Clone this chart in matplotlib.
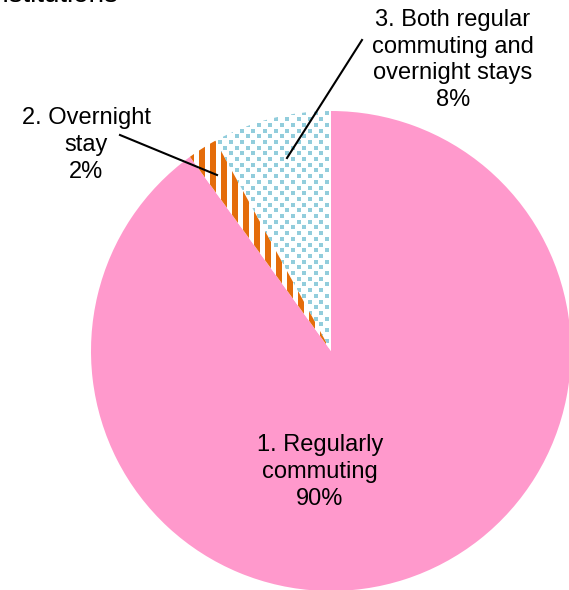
import numpy as np
import matplotlib
matplotlib.use('Agg')
import matplotlib.pyplot as plt
from matplotlib.patches import Rectangle
from matplotlib.collections import PatchCollection

plt.rcParams['font.family'] = ['Liberation Sans', 'DejaVu Sans']

labels = ['1. Regularly\ncommuting', '2. Overnight\nstay', '3. Both regular\ncommuting and\novernight stays']
shares = [90, 2, 8]
pink = '#FF99CC'
orange = '#E46C0A'
dot_blue = '#92CDDC'

W, H = 569, 590
R = 240.0          # pie radius in px
cx, cy = 331, 351  # pie centre in px (from top-left)

fig = plt.figure(figsize=(W / 100, H / 100), dpi=100)
ax = fig.add_axes([0, 0, 1, 1])

wedges, _ = ax.pie(shares, colors=[pink, 'white', 'white'], startangle=90,
                   counterclock=False, radius=1, center=(0, 0),
                   wedgeprops=dict(linewidth=0))

# vertical orange stripes in the 2% slice
period = 11 / R
stripes = [Rectangle((x, -1.1), 6 / R, 2.2) for x in np.arange(-1.1, 1.1, period)]
pc = PatchCollection(stripes, facecolor=orange, edgecolor='none')
ax.add_collection(pc)
pc.set_clip_path(wedges[1])

# staggered dots in the 8% slice
dx, dy = 11.3 / R, 5.7 / R
pts = []
for j, y in enumerate(np.arange(-1.1, 1.1, dy)):
    off = dx / 2 if j % 2 else 0
    for x in np.arange(-1.1 + off, 1.1, dx):
        pts.append((x, y))
pts = np.array(pts)
sc = ax.scatter(pts[:, 0], pts[:, 1], s=7, marker='s', c=dot_blue, linewidths=0)
sc.set_clip_path(wedges[2])

ax.set_xlim(-cx / R, (W - cx) / R)
ax.set_ylim(-(H - cy) / R, cy / R)
ax.set_aspect('equal')
ax.axis('off')

def px(x, y):
    return ((x - cx) / R, (cy - y) / R)

fs = 17
ls = 1.28
ax.text(*px(320, 472), f'{labels[0]}\n{shares[0]}%', ha='center', va='center',
        fontsize=fs, linespacing=ls)
ax.text(*px(86, 145), f'{labels[1]}\n{shares[1]}%', ha='center', va='center',
        fontsize=fs, linespacing=ls)
ax.text(*px(453, 60), f'{labels[2]}\n{shares[2]}%', ha='center', va='center',
        fontsize=fs, linespacing=ls)

ax.plot(*zip(px(120, 135), px(217, 175)), color='black', lw=1.5)
ax.plot(*zip(px(362, 40), px(287, 158)), color='black', lw=1.5)

fig.text(118 / W, 1 - 2 / H, 'institutions', ha='right', va='baseline', fontsize=20)

fig.savefig('out.png', dpi=100)
